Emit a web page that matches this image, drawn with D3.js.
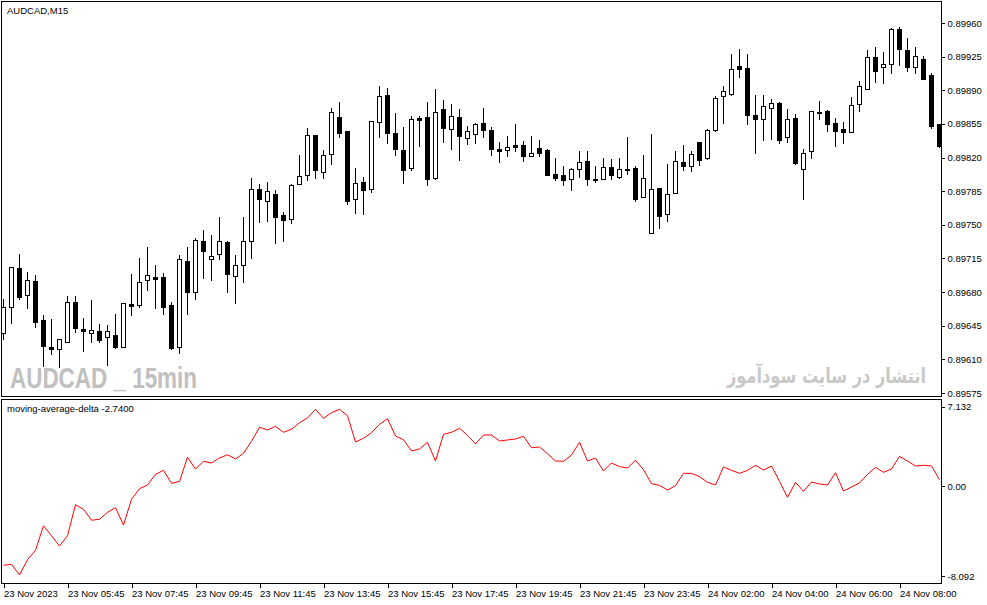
<!DOCTYPE html>
<html>
<head>
<meta charset="utf-8">
<script src="https://cdn.jsdelivr.net/npm/d3@7"></script>
<style>
  body { margin: 0; background: #fff; }
  text { font-family: "Liberation Sans", Arial, sans-serif; font-size: 9.5px; fill: #000; }
</style>
</head>
<body>
<div id="chart"></div>
<script>
// AUDCAD M15 bars, oldest first
const barOpen = [
  0.89638, 0.89664, 0.89705, 0.89677, 0.89692, 0.89651, 0.89623, 0.89621, 0.89628, 0.89670,
  0.89642, 0.89638, 0.89640, 0.89633, 0.89635, 0.89623, 0.89668, 0.89667, 0.89693, 0.89696,
  0.89696, 0.89667, 0.89622, 0.89712, 0.89680, 0.89733, 0.89715, 0.89719, 0.89732, 0.89697,
  0.89708, 0.89733, 0.89787, 0.89775, 0.89782, 0.89760, 0.89756, 0.89793, 0.89801, 0.89843,
  0.89805, 0.89823, 0.89862, 0.89848, 0.89777, 0.89795, 0.89787, 0.89857, 0.89885, 0.89846,
  0.89828, 0.89809, 0.89861, 0.89862, 0.89798, 0.89870, 0.89849, 0.89862, 0.89841, 0.89845,
  0.89856, 0.89849, 0.89829, 0.89828, 0.89833, 0.89833, 0.89822, 0.89830, 0.89828, 0.89803,
  0.89802, 0.89798, 0.89808, 0.89816, 0.89797, 0.89798, 0.89810, 0.89800, 0.89808, 0.89809,
  0.89779, 0.89741, 0.89788, 0.89761, 0.89783, 0.89815, 0.89812, 0.89836, 0.89820, 0.89849,
  0.89884, 0.89886, 0.89915, 0.89913, 0.89864, 0.89860, 0.89872, 0.89877, 0.89841, 0.89861,
  0.89808, 0.89826, 0.89867, 0.89868, 0.89856, 0.89850, 0.89847, 0.89875, 0.89892, 0.89925,
  0.89914, 0.89918, 0.89954, 0.89932, 0.89915, 0.89923, 0.89906, 0.89855
]
const barHigh = [
  0.89674, 0.89707, 0.89721, 0.89702, 0.89699, 0.89657, 0.89653, 0.89631, 0.89677, 0.89677,
  0.89654, 0.89673, 0.89648, 0.89647, 0.89658, 0.89669, 0.89700, 0.89716, 0.89728, 0.89709,
  0.89701, 0.89671, 0.89720, 0.89728, 0.89737, 0.89746, 0.89740, 0.89759, 0.89734, 0.89720,
  0.89759, 0.89800, 0.89794, 0.89796, 0.89787, 0.89764, 0.89794, 0.89824, 0.89852, 0.89843,
  0.89829, 0.89873, 0.89879, 0.89848, 0.89810, 0.89801, 0.89858, 0.89895, 0.89893, 0.89867,
  0.89853, 0.89864, 0.89864, 0.89879, 0.89892, 0.89881, 0.89877, 0.89872, 0.89854, 0.89857,
  0.89873, 0.89853, 0.89837, 0.89843, 0.89856, 0.89838, 0.89843, 0.89839, 0.89830, 0.89821,
  0.89812, 0.89810, 0.89828, 0.89828, 0.89812, 0.89821, 0.89820, 0.89821, 0.89842, 0.89812,
  0.89824, 0.89846, 0.89788, 0.89814, 0.89828, 0.89834, 0.89828, 0.89836, 0.89851, 0.89885,
  0.89896, 0.89929, 0.89934, 0.89929, 0.89886, 0.89886, 0.89882, 0.89879, 0.89872, 0.89866,
  0.89830, 0.89868, 0.89880, 0.89870, 0.89862, 0.89858, 0.89884, 0.89901, 0.89933, 0.89936,
  0.89931, 0.89956, 0.89957, 0.89945, 0.89936, 0.89927, 0.89909, 0.89855
]
const barLow = [
  0.89631, 0.89648, 0.89673, 0.89663, 0.89644, 0.89603, 0.89616, 0.89602, 0.89628, 0.89638,
  0.89619, 0.89628, 0.89628, 0.89604, 0.89622, 0.89623, 0.89656, 0.89665, 0.89682, 0.89663,
  0.89657, 0.89621, 0.89617, 0.89657, 0.89673, 0.89695, 0.89693, 0.89714, 0.89680, 0.89669,
  0.89691, 0.89715, 0.89753, 0.89754, 0.89731, 0.89733, 0.89752, 0.89793, 0.89797, 0.89799,
  0.89799, 0.89813, 0.89841, 0.89772, 0.89762, 0.89761, 0.89784, 0.89841, 0.89835, 0.89823,
  0.89794, 0.89807, 0.89832, 0.89791, 0.89798, 0.89836, 0.89829, 0.89817, 0.89834, 0.89835,
  0.89841, 0.89823, 0.89815, 0.89822, 0.89827, 0.89816, 0.89822, 0.89822, 0.89802, 0.89797,
  0.89791, 0.89786, 0.89800, 0.89791, 0.89795, 0.89798, 0.89798, 0.89799, 0.89803, 0.89775,
  0.89779, 0.89741, 0.89747, 0.89754, 0.89783, 0.89807, 0.89806, 0.89812, 0.89819, 0.89848,
  0.89856, 0.89885, 0.89904, 0.89855, 0.89825, 0.89838, 0.89839, 0.89835, 0.89836, 0.89813,
  0.89777, 0.89820, 0.89860, 0.89848, 0.89832, 0.89835, 0.89847, 0.89868, 0.89892, 0.89899,
  0.89898, 0.89908, 0.89916, 0.89910, 0.89908, 0.89902, 0.89851, 0.89831
]
const barClose = [
  0.89665, 0.89706, 0.89675, 0.89693, 0.89649, 0.89624, 0.89621, 0.89631, 0.89670, 0.89643,
  0.89640, 0.89641, 0.89631, 0.89639, 0.89622, 0.89669, 0.89666, 0.89691, 0.89698, 0.89694,
  0.89665, 0.89622, 0.89714, 0.89680, 0.89734, 0.89723, 0.89718, 0.89733, 0.89699, 0.89708,
  0.89733, 0.89787, 0.89777, 0.89785, 0.89758, 0.89755, 0.89791, 0.89801, 0.89843, 0.89807,
  0.89823, 0.89867, 0.89845, 0.89775, 0.89794, 0.89787, 0.89858, 0.89884, 0.89845, 0.89829,
  0.89807, 0.89860, 0.89859, 0.89797, 0.89867, 0.89850, 0.89863, 0.89842, 0.89848, 0.89855,
  0.89849, 0.89829, 0.89827, 0.89831, 0.89831, 0.89822, 0.89825, 0.89825, 0.89802, 0.89799,
  0.89797, 0.89808, 0.89815, 0.89797, 0.89798, 0.89810, 0.89802, 0.89808, 0.89808, 0.89777,
  0.89799, 0.89787, 0.89759, 0.89782, 0.89816, 0.89811, 0.89824, 0.89817, 0.89849, 0.89882,
  0.89889, 0.89912, 0.89912, 0.89864, 0.89860, 0.89874, 0.89877, 0.89839, 0.89860, 0.89814,
  0.89825, 0.89868, 0.89867, 0.89854, 0.89848, 0.89847, 0.89875, 0.89894, 0.89925, 0.89910,
  0.89917, 0.89954, 0.89933, 0.89914, 0.89926, 0.89902, 0.89853, 0.89832
]

// moving-average-delta, one value per bar
const maDelta = [
  -7.13, -7.04, -8.00, -6.63, -5.78, -3.57, -4.47, -5.40, -4.47, -1.68,
  -2.10, -3.08, -2.99, -2.37, -1.95, -3.51, -1.20, -0.24, 0.09, 1.05,
  1.41, 0.24, 0.42, 2.58, 1.53, 2.22, 2.07, 2.52, 2.81, 2.43,
  2.94, 4.02, 5.28, 5.04, 5.37, 4.83, 5.10, 5.69, 6.12, 6.90,
  6.09, 6.59, 6.90, 6.32, 3.96, 4.29, 4.79, 5.55, 6.05, 4.50,
  4.16, 3.15, 3.33, 3.93, 2.25, 4.65, 4.83, 5.19, 4.56, 3.78,
  4.59, 4.59, 4.05, 4.14, 4.23, 4.47, 3.44, 3.51, 2.90, 2.25,
  2.22, 2.79, 3.93, 2.25, 2.52, 1.35, 2.07, 1.74, 1.62, 2.31,
  1.47, 0.21, 0.06, -0.36, 0.03, 1.14, 1.14, 0.84, 0.33, 0.09,
  1.71, 1.41, 1.14, 1.41, 1.86, 1.44, 1.80, 0.42, -1.02, 0.33,
  -0.48, 0.36, 0.18, 0.09, 1.20, -0.45, -0.09, 0.27, 1.05, 1.68,
  1.23, 1.53, 2.67, 2.25, 1.80, 1.86, 1.80, 0.57
]

const priceTicks = [0.89575, 0.89610, 0.89645, 0.89680, 0.89715, 0.89750,
  0.89785, 0.89820, 0.89855, 0.89890, 0.89925, 0.89960]
const deltaTicks = [-8.092, 0, 7.132]
const timeTickBars = [0, 8, 16, 24, 32, 40, 48, 56, 64, 72, 80, 88, 96, 104, 112]
const timeLabels = ['23 Nov 2023', '23 Nov 05:45', '23 Nov 07:45', '23 Nov 09:45',
  '23 Nov 11:45', '23 Nov 13:45', '23 Nov 15:45', '23 Nov 17:45', '23 Nov 19:45',
  '23 Nov 21:45', '23 Nov 23:45', '24 Nov 02:00', '24 Nov 04:00', '24 Nov 06:00',
  '24 Nov 08:00']

const width = 987
const height = 605
const frame = {left: 1.5, right: 941.5, top: 1.5, mainBottom: 396.5, subTop: 399.5, subBottom: 583.5}
const bodyHalf = 2

const svg = d3.select('#chart')
  .append('svg')
  .attr('width', width)
  .attr('height', height)

// scales
const n = barOpen.length
const xs = d3.scaleLinear()
  .domain([0, n - 1])
  .range([3.5, 3.5 + 8 * (n - 1)])
const ys = d3.scaleLinear()
  .domain([0.89575, 0.89960])
  .range([393, 23])
const zs = d3.scaleLinear()
  .domain([-8.092, 7.132])
  .range([576, 406.7])
const px = (v) => Math.round(v) + 0.5

// clip for each window
svg.append('clipPath').attr('id', 'mainClip')
  .append('rect')
  .attr('x', frame.left).attr('y', frame.top)
  .attr('width', frame.right - frame.left).attr('height', frame.mainBottom - frame.top)
svg.append('clipPath').attr('id', 'subClip')
  .append('rect')
  .attr('x', frame.left).attr('y', frame.subTop)
  .attr('width', frame.right - frame.left).attr('height', frame.subBottom - frame.subTop)

// watermarks
svg.append('text')
  .attr('x', 10)
  .attr('y', 388)
  .attr('textLength', 187)
  .attr('lengthAdjust', 'spacingAndGlyphs')
  .style('font-size', '30px')
  .style('font-weight', 'bold')
  .style('fill', '#c0c0c0')
  .text('AUDCAD _ 15min')
svg.append('text')
  .attr('x', 727)
  .attr('y', 383)
  .attr('textLength', 199)
  .attr('lengthAdjust', 'spacingAndGlyphs')
  .style('font-family', '"DejaVu Sans", sans-serif')
  .style('font-size', '21px')
  .style('font-weight', 'bold')
  .style('fill', '#c8c8c8')
  .text('انتشار در سایت سودآموز')

// candles
const candles = svg.append('g')
  .attr('clip-path', 'url(#mainClip)')
  .attr('shape-rendering', 'crispEdges')
  .selectAll('g')
  .data(d3.range(n))
  .enter()
  .append('g')

candles.append('line')
  .attr('x1', (i) => px(xs(i) - 0.5))
  .attr('x2', (i) => px(xs(i) - 0.5))
  .attr('y1', (i) => px(ys(barHigh[i])))
  .attr('y2', (i) => px(ys(barLow[i])))
  .attr('stroke', '#000')

candles.append('rect')
  .attr('x', (i) => px(xs(i) - 0.5) - bodyHalf)
  .attr('y', (i) => px(ys(Math.max(barOpen[i], barClose[i]))))
  .attr('width', bodyHalf * 2)
  .attr('height', (i) => Math.max(1, Math.round(Math.abs(ys(barOpen[i]) - ys(barClose[i])))))
  .attr('fill', (i) => barClose[i] >= barOpen[i] ? '#fff' : '#000')
  .attr('stroke', '#000')

// indicator line
svg.append('path')
  .datum(maDelta)
  .attr('clip-path', 'url(#subClip)')
  .attr('fill', 'none')
  .attr('stroke', '#ff0000')
  .attr('stroke-width', 1)
  .attr('d', d3.line().x((d, i) => xs(i)).y((d) => zs(d)))

// window frames
const frames = svg.append('g')
  .attr('fill', 'none')
  .attr('stroke', '#000')
  .attr('shape-rendering', 'crispEdges')
frames.append('rect')
  .attr('x', frame.left).attr('y', frame.top)
  .attr('width', frame.right - frame.left).attr('height', frame.mainBottom - frame.top)
frames.append('rect')
  .attr('x', frame.left).attr('y', frame.subTop)
  .attr('width', frame.right - frame.left).attr('height', frame.subBottom - frame.subTop)

// axes
const priceAxis = svg.append('g')
  .attr('transform', `translate(${frame.right},0)`)
  .attr('shape-rendering', 'crispEdges')
  .call(d3.axisRight(ys).tickValues(priceTicks).tickFormat(d3.format('.5f')).tickSize(3).tickPadding(3))
priceAxis.select('.domain').remove()

const deltaAxis = svg.append('g')
  .attr('transform', `translate(${frame.right},0)`)
  .attr('shape-rendering', 'crispEdges')
  .call(d3.axisRight(zs).tickValues(deltaTicks)
    .tickFormat((d) => d === 0 ? '0.00' : d.toFixed(3)).tickSize(3).tickPadding(3))
deltaAxis.select('.domain').remove()

const timeAxis = svg.append('g')
  .attr('transform', `translate(0,${frame.subBottom})`)
  .attr('shape-rendering', 'crispEdges')
  .call(d3.axisBottom(xs).tickValues(timeTickBars)
    .tickFormat((d) => timeLabels[timeTickBars.indexOf(d)]).tickSize(4).tickPadding(3))
timeAxis.select('.domain').remove()
timeAxis.selectAll('text').attr('text-anchor', 'start')

svg.selectAll('.tick line').attr('stroke', '#000')

// titles
svg.append('text')
  .attr('x', 7)
  .attr('y', 14)
  .text('AUDCAD,M15')
svg.append('text')
  .attr('x', 7)
  .attr('y', 412)
  .text('moving-average-delta -2.7400')
</script>
</body>
</html>
